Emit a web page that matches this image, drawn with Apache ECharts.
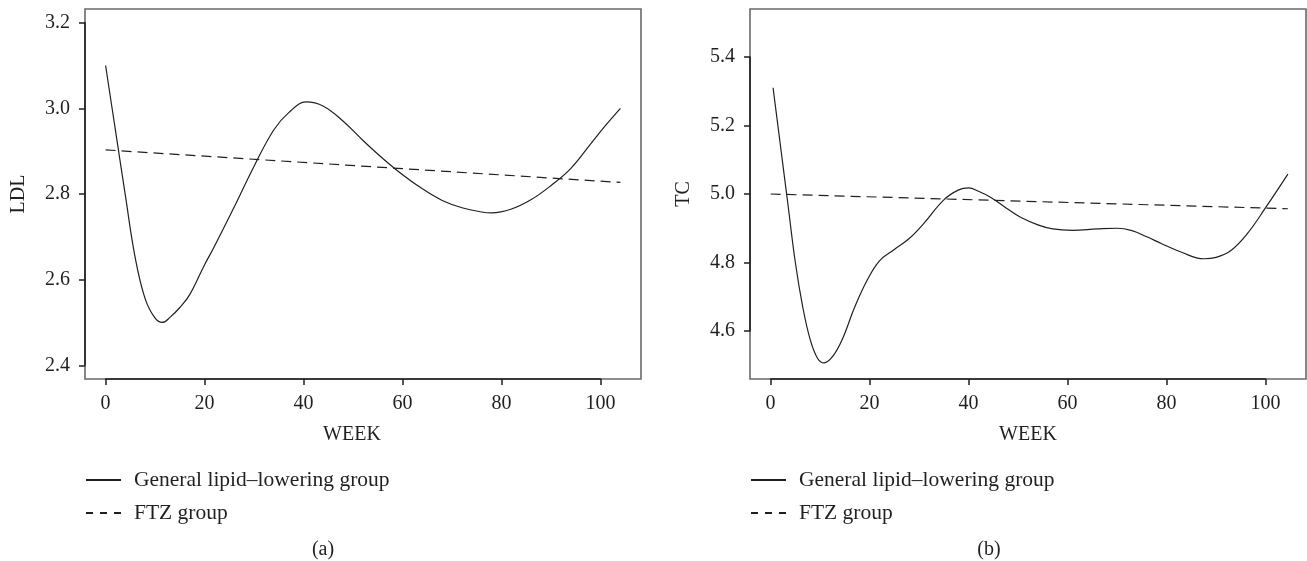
<!DOCTYPE html>
<html>
<head>
<meta charset="utf-8">
<title>LDL and TC by week</title>
<script src="https://cdn.jsdelivr.net/npm/echarts@6/dist/echarts.min.js"></script>
<style>
  html, body { margin: 0; padding: 0; background: #fff; }
  #main { width: 1307px; height: 561px; }
</style>
</head>
<body>
<div id="main"></div>
<script>
// week axis, shared by both panels
var weekTicks = [0, 20, 40, 60, 80, 100];
var weekLim = [0, 104];

// (a) LDL
var ldlTicks = [2.4, 2.6, 2.8, 3.0, 3.2];
var ldlLim = [2.4, 3.2];
var ldlWeeks = [0, 2, 4, 6, 8, 10, 11.5, 13, 15, 17, 20, 22, 26, 30, 34, 37, 40.5, 44, 48, 52, 56, 60, 64, 68, 72, 76, 78, 82, 86, 90, 94, 98, 101, 104];
var ldlGeneral = [3.10, 2.948, 2.796, 2.65, 2.555, 2.51, 2.50, 2.512, 2.535, 2.565, 2.635, 2.678, 2.77, 2.865, 2.95, 2.99, 3.015, 3.005, 2.97, 2.925, 2.883, 2.845, 2.812, 2.785, 2.768, 2.758, 2.756, 2.765, 2.787, 2.82, 2.86, 2.917, 2.96, 3.00];
var ldlFtzWeeks = [0, 104];
var ldlFtz = [2.903, 2.827];

// (b) TC
var tcTicks = [4.6, 4.8, 5.0, 5.2, 5.4];
var tcLim = [4.5, 5.5];
var tcWeeks = [0.5, 2, 3.5, 5, 6.5, 8, 9.5, 10.8, 12.5, 14.4, 17, 19.5, 22, 25, 28, 31, 35, 38, 40, 42, 44.5, 47.5, 50.5, 54, 57, 61, 66, 70, 73, 76, 79, 83, 87.5, 90, 93, 96.3, 100, 104.5];
var tcGeneral = [5.31, 5.14, 4.97, 4.80, 4.67, 4.575, 4.52, 4.507, 4.525, 4.573, 4.67, 4.748, 4.805, 4.838, 4.87, 4.915, 4.983, 5.012, 5.018, 5.008, 4.99, 4.96, 4.932, 4.91, 4.898, 4.894, 4.898, 4.90, 4.893, 4.875, 4.855, 4.83, 4.811, 4.815, 4.835, 4.884, 4.96, 5.058];
var tcFtzWeeks = [0, 104.5];
var tcFtz = [5.0, 4.957];

var groupNames = ['General lipid\u2013lowering group', 'FTZ group'];

var ink = '#231f20';
var font = "'Liberation Serif', 'DejaVu Serif', serif";
var boxTop = 9, boxH = 370, boxW = 556;

var panels = [
  { left: 85, label: 'LDL', ticks: ldlTicks, lim: ldlLim, weeks: ldlWeeks, general: ldlGeneral,
    ftzWeeks: ldlFtzWeeks, ftz: ldlFtz, tag: '(a)', tagX: 323, weekX: 352 },
  { left: 750, label: 'TC', ticks: tcTicks, lim: tcLim, weeks: tcWeeks, general: tcGeneral,
    ftzWeeks: tcFtzWeeks, ftz: tcFtz, tag: '(b)', tagX: 989, weekX: 1028 }
];

// R style: plot region runs 4% past the data limits
function pad(lim) {
  var d = (lim[1] - lim[0]) * 0.04;
  return [lim[0] - d, lim[1] + d];
}
function pairs(xs, ys) {
  return xs.map(function (x, i) { return [x, ys[i]]; });
}

var option = { animation: false, grid: [], xAxis: [], yAxis: [], series: [], legend: [], graphic: [] };

panels.forEach(function (p, k) {
  var g = k * 3;
  var xr = pad(weekLim), yr = pad(p.lim);
  var xStep = weekTicks[1] - weekTicks[0];
  var yStep = +(p.ticks[1] - p.ticks[0]).toFixed(6);
  var xFirst = weekTicks[0], xLast = weekTicks[weekTicks.length - 1];
  var yFirst = p.ticks[0], yLast = p.ticks[p.ticks.length - 1];

  // box
  option.grid.push({ left: p.left, top: boxTop, width: boxW, height: boxH, show: true,
    borderColor: '#6a6a6a', borderWidth: 1.6 });
  // x axis, drawn only between first and last tick
  var ax0 = p.left + (xFirst - xr[0]) / (xr[1] - xr[0]) * boxW;
  var ax1 = p.left + (xLast - xr[0]) / (xr[1] - xr[0]) * boxW;
  option.grid.push({ left: ax0, top: boxTop, width: ax1 - ax0, height: boxH });
  // y axis, same idea
  var ay0 = boxTop + (yr[1] - yLast) / (yr[1] - yr[0]) * boxH;
  var ay1 = boxTop + (yr[1] - yFirst) / (yr[1] - yr[0]) * boxH;
  option.grid.push({ left: p.left, top: ay0, width: boxW, height: ay1 - ay0 });

  var lineLook = { show: true, onZero: false, lineStyle: { color: ink, width: 1.6 } };
  var tickLook = { show: true, length: 6, lineStyle: { color: ink, width: 1.5 } };
  var labelLook = { color: ink, fontSize: 20, fontFamily: font, margin: 15 };

  option.xAxis.push(
    { gridIndex: g, type: 'value', min: xr[0], max: xr[1], show: false, splitLine: { show: false } },
    { gridIndex: g + 1, type: 'value', min: xFirst, max: xLast, interval: xStep,
      axisLine: lineLook, axisTick: tickLook, axisLabel: labelLook, splitLine: { show: false } },
    { gridIndex: g + 2, type: 'value', min: 0, max: 1, show: false, splitLine: { show: false } }
  );
  option.yAxis.push(
    { gridIndex: g, type: 'value', min: yr[0], max: yr[1], show: false, splitLine: { show: false } },
    { gridIndex: g + 1, type: 'value', min: 0, max: 1, show: false, splitLine: { show: false } },
    { gridIndex: g + 2, type: 'value', min: yFirst, max: yLast, interval: yStep,
      axisLine: lineLook, axisTick: tickLook,
      axisLabel: Object.assign({ formatter: function (v) { return v.toFixed(1); } }, labelLook),
      splitLine: { show: false },
      name: p.label, nameLocation: 'middle', nameGap: 56,
      nameTextStyle: { color: ink, fontSize: 20, fontFamily: font } }
  );

  option.series.push(
    { name: groupNames[0], type: 'line', xAxisIndex: g, yAxisIndex: g, smooth: 0.4,
      symbol: 'none', color: ink, lineStyle: { color: ink, width: 1.2 },
      data: pairs(p.weeks, p.general) },
    { name: groupNames[1], type: 'line', xAxisIndex: g, yAxisIndex: g,
      symbol: 'none', color: ink, lineStyle: { color: ink, width: 1.2, type: [10, 6] },
      data: pairs(p.ftzWeeks, p.ftz) }
  );

  option.legend.push({
    left: p.left, top: 469, orient: 'vertical', padding: 0,
    itemWidth: 35, itemHeight: 14, itemGap: 11, selectedMode: false,
    itemStyle: { opacity: 0 },
    textStyle: { color: ink, fontSize: 21.5, fontFamily: font, padding: [0, 0, 0, 8] },
    data: [
      { name: groupNames[0] },
      { name: groupNames[1], lineStyle: { type: [7, 7] } }
    ]
  });

  option.graphic.push(
    { type: 'text', x: p.weekX, y: 435,
      style: { text: 'WEEK', fill: ink, fontSize: 20, fontFamily: font, align: 'center', verticalAlign: 'middle' } },
    { type: 'text', x: p.tagX, y: 550,
      style: { text: p.tag, fill: ink, fontSize: 20, fontFamily: font, align: 'center', verticalAlign: 'middle' } }
  );
});

var chart = echarts.init(document.getElementById('main'));
chart.setOption(option);
</script>
</body>
</html>
